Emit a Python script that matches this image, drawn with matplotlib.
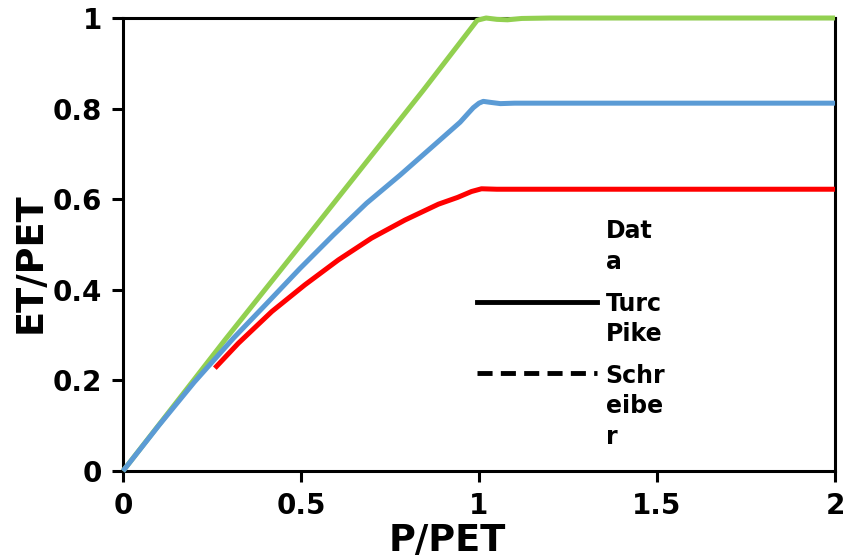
import numpy as np
import matplotlib
matplotlib.use("Agg")
import matplotlib.pyplot as plt
from matplotlib.lines import Line2D
from matplotlib.legend_handler import HandlerLine2D

# ---- data ----
green_x = [0.0, 0.287, 0.5, 0.844, 0.995, 1.02, 1.05, 1.08, 1.12, 1.2, 2.0]
green_y = [0.0, 0.290, 0.5, 0.841, 0.995, 1.0, 0.997, 0.996, 0.999, 1.0, 1.0]

blue_x = [0.0, 0.1, 0.2, 0.31, 0.404, 0.497, 0.591, 0.684, 0.778, 0.872, 0.947,
          0.970, 0.984, 1.0, 1.012, 1.03, 1.06, 1.1, 2.0]
blue_y = [0.0, 0.1, 0.196, 0.293, 0.370, 0.447, 0.521, 0.591, 0.653, 0.718, 0.770,
          0.790, 0.802, 0.812, 0.816, 0.814, 0.811, 0.812, 0.812]

red_x = [0.258, 0.324, 0.418, 0.511, 0.605, 0.698, 0.792, 0.886, 0.940, 0.979, 1.007, 1.05, 2.0]
red_y = [0.227, 0.282, 0.352, 0.411, 0.466, 0.514, 0.554, 0.589, 0.604, 0.617, 0.623, 0.622, 0.622]

x_ticks = [0, 0.5, 1, 1.5, 2]
x_ticklabels = ["0", "0.5", "1", "1.5", "2"]
y_ticks = [0, 0.2, 0.4, 0.6, 0.8, 1.0]
y_ticklabels = ["0", "0.2", "0.4", "0.6", "0.8", "1"]

legend_labels = ["Dat\na", "Turc\nPike", "Schr\neibe\nr"]

GREEN = "#92D050"
BLUE = "#5B9BD5"
RED = "#FF0000"

plt.rcParams["font.family"] = ["DejaVu Sans"]
plt.rcParams["font.weight"] = "bold"

fig = plt.figure(figsize=(8.49, 5.58), dpi=100)
ax = fig.add_axes([123 / 849, 1 - 471 / 558, (835 - 123) / 849, (471 - 18) / 558])

lw = 3.6
ax.plot(green_x, green_y, color=GREEN, lw=lw, clip_on=False, zorder=3,
        solid_capstyle="butt", solid_joinstyle="round")
ax.plot(blue_x, blue_y, color=BLUE, lw=lw, clip_on=False, zorder=3,
        solid_capstyle="butt", solid_joinstyle="round")
ax.plot(red_x, red_y, color=RED, lw=lw, clip_on=False, zorder=3,
        solid_capstyle="butt", solid_joinstyle="round")

ax.set_xlim(0, 2)
ax.set_ylim(0, 1)
ax.set_xticks(x_ticks)
ax.set_xticklabels(x_ticklabels)
ax.set_yticks(y_ticks)
ax.set_yticklabels(y_ticklabels)

for s in ax.spines.values():
    s.set_linewidth(2.2)
ax.tick_params(axis="both", direction="out", length=8, width=2.2, labelsize=20, pad=7)
for lab in ax.get_xticklabels() + ax.get_yticklabels():
    lab.set_fontweight("bold")

ax.set_xlabel("P/PET", fontsize=26.5, fontweight="bold", labelpad=1.8)
ax.set_ylabel("ET/PET", fontsize=26.5, fontweight="bold", labelpad=3)
ax.xaxis.label.set_x(0.456)
ax.yaxis.label.set_y(0.461)


class TopLineHandler(HandlerLine2D):
    def __init__(self, shift_pts, **kw):
        super().__init__(**kw)
        self.shift_pts = shift_pts

    def create_artists(self, legend, orig_handle, xdescent, ydescent, width, height, fontsize, trans):
        arts = super().create_artists(legend, orig_handle, xdescent, ydescent, width, height, fontsize, trans)
        for a in arts:
            a.set_ydata(np.asarray(a.get_ydata()) + self.shift_pts)
        return arts


h_data = Line2D([], [], linestyle="none")
h_turc = Line2D([], [], color="black", lw=3.5)
h_schr = Line2D([], [], color="black", lw=3.5, dashes=(3.1, 1.7))

leg = ax.legend(
    [h_data, h_turc, h_schr], legend_labels,
    loc="upper left", bbox_to_anchor=(0.497, 0.556),
    frameon=False, borderpad=0, borderaxespad=0,
    handlelength=5.1, handletextpad=0.35, labelspacing=0.76,
    prop={"size": 17, "weight": "bold"},
    handler_map={h_turc: TopLineHandler(13.3), h_schr: TopLineHandler(24.8)},
)
for t in leg.get_texts():
    t.set_linespacing(1.34)

fig.savefig("out.png", dpi=100)
